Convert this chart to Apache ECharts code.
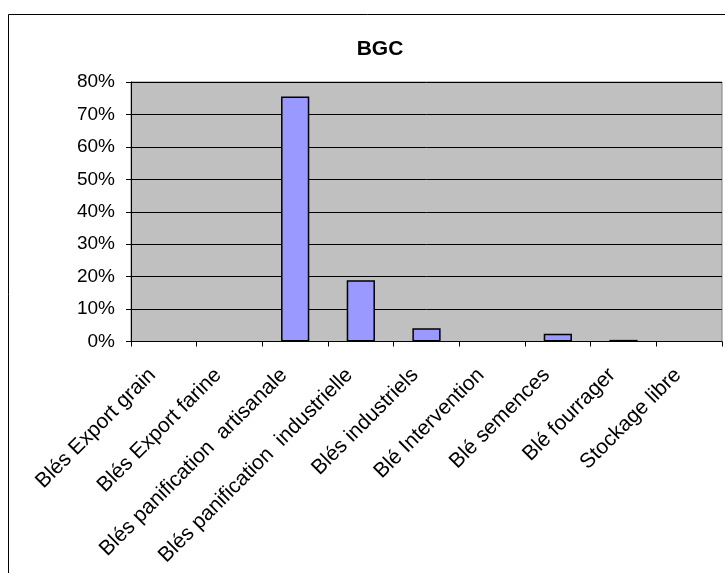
<!DOCTYPE html>
<html><head><meta charset="utf-8">
<script src="https://cdn.jsdelivr.net/npm/echarts@6/dist/echarts.min.js"></script>
<style>html,body{margin:0;padding:0;background:#fff}#c{width:725px;height:573px}</style>
</head><body><div id="c"></div>
<script>
const categories = ["Blés Export grain","Blés Export farine","Blés panification  artisanale","Blés panification  industrielle","Blés industriels","Blé Intervention","Blé semences","Blé fourrager","Stockage libre"];
const values = [0, 0, 75.5, 18.9, 4.1, 0, 2.4, 0.5, 0];
const yTicks = {min: 0, max: 80, interval: 10};
const titleText = "BGC";

const chart = echarts.init(document.getElementById('c'), null, {renderer: 'canvas'});
chart.setOption({
  animation: false,
  backgroundColor: '#ffffff',
  title: {text: titleText, left: 375, top: 34, textAlign: 'center',
    textStyle: {fontFamily: 'Liberation Sans', fontWeight: 'bold', fontSize: 21, color: '#000'}},
  graphic: [{type: 'rect', shape: {x: 8.5, y: 14.5, width: 1000, height: 1000},
    style: {fill: 'none', stroke: '#000', lineWidth: 1}, z: -1}],
  grid: {left: 131, right: 3, top: 82, bottom: 231.5, show: true, backgroundColor: '#C0C0C0',
    borderColor: '#808080', borderWidth: 1},
  xAxis: {type: 'category', data: categories,
    axisLine: {lineStyle: {color: '#000', width: 1}},
    axisTick: {show: true, length: 5, lineStyle: {color: '#000'}},
    axisLabel: {rotate: 45, margin: 19, padding: [0, 16, 0, 0], interval: 0,
      fontFamily: 'Liberation Sans', fontSize: 21, color: '#000'}},
  yAxis: {type: 'value', min: yTicks.min, max: yTicks.max, interval: yTicks.interval,
    axisLine: {show: true, lineStyle: {color: '#000'}},
    axisTick: {show: true, length: 5, lineStyle: {color: '#000'}},
    splitLine: {lineStyle: {color: '#000', width: 1}},
    axisLabel: {formatter: '{value}%', margin: 16, fontFamily: 'Liberation Sans', fontSize: 19, color: '#000'}},
  series: [{type: 'bar',
    data: values.map(v => v === 0 ? {value: v, itemStyle: {borderWidth: 0}} : v),
    barCategoryGap: '57%',
    itemStyle: {color: '#9999FF', borderColor: '#000', borderWidth: 1.5}}]
});
</script></body></html>
